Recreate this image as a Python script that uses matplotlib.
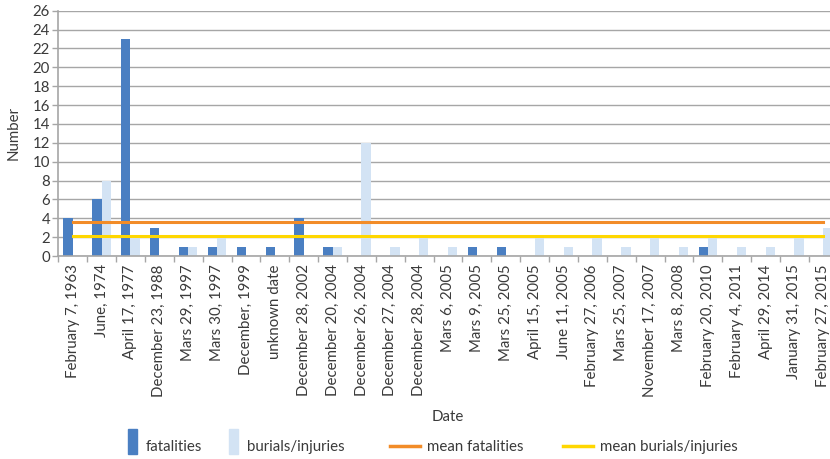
import matplotlib
matplotlib.use("Agg")
import matplotlib.pyplot as plt
import numpy as np
from matplotlib.patches import Rectangle
from matplotlib.lines import Line2D
from matplotlib.legend_handler import HandlerPatch

plt.rcParams['font.family'] = ['Lato', 'DejaVu Sans']

dates = ["February 7, 1963", "June, 1974", "April 17, 1977", "December 23, 1988",
         "Mars 29, 1997", "Mars 30, 1997", "December, 1999", "unknown date",
         "December 28, 2002", "December 20, 2004", "December 26, 2004",
         "December 27, 2004", "December 28, 2004", "Mars 6, 2005", "Mars 9, 2005",
         "Mars 25, 2005", "April 15, 2005", "June 11, 2005", "February 27, 2006",
         "Mars 25, 2007", "November 17, 2007", "Mars 8, 2008", "February 20, 2010",
         "February 4, 2011", "April 29, 2014", "January 31, 2015", "February 27, 2015"]
fatalities = [4, 6, 23, 3, 1, 1, 1, 1, 4, 1, 0, 0, 0, 0, 1, 1, 0, 0, 0, 0, 0, 0, 1, 0, 0, 0, 0]
burials_injuries = [0, 8, 2, 0, 1, 2, 0, 0, 0, 1, 12, 1, 2, 1, 0, 0, 2, 1, 2, 1, 2, 1, 2, 1, 1, 2, 3]
mean_fatalities = 3.6
mean_burials_injuries = 2.1

C_FAT = "#4a7fc2"
C_BUR = "#d3e3f4"
C_MFAT = "#f28c28"
C_MBUR = "#ffd700"
TXT = "#3a3a3a"
GRID = "#a6a6a6"

W, H = 830, 459
fig = plt.figure(figsize=(W / 100, H / 100), dpi=100)
x0, x1 = 58.3, 837.8
y0, y1 = 256.0, 10.7
ax = fig.add_axes([x0 / W, 1 - y0 / H, (x1 - x0) / W, (y0 - y1) / H])

n = len(dates)
x = np.arange(n)
bw = 0.32
ax.bar(x - bw / 2, fatalities, width=bw, color=C_FAT, zorder=2)
ax.bar(x + bw / 2, burials_injuries, width=bw, color=C_BUR, zorder=2)
ax.plot(x, [mean_fatalities] * n, color=C_MFAT, lw=2.2, zorder=3)
ax.plot(x, [mean_burials_injuries] * n, color=C_MBUR, lw=2.2, zorder=3)

ax.set_xlim(-0.5, n - 0.5)
ax.set_ylim(0, 26)
ax.set_yticks(np.arange(0, 27, 2))
ax.yaxis.grid(True, color=GRID, lw=1.0, zorder=0)
ax.set_axisbelow(True)

ax.set_xticks(x)
ax.set_xticklabels(dates, rotation=90, fontsize=10.8, color=TXT)
ax.set_xticks(np.arange(-0.5, n, 1), minor=True)
ax.tick_params(axis='x', which='major', length=0, pad=6)
ax.tick_params(axis='x', which='minor', length=4, color=GRID, width=1)
ax.tick_params(axis='y', length=4, color=GRID, width=1, labelsize=10.8, labelcolor=TXT, pad=2)

for s in ('top', 'right'):
    ax.spines[s].set_visible(False)
for s in ('left', 'bottom'):
    ax.spines[s].set_color(GRID)
    ax.spines[s].set_linewidth(1.2)

fig.text(14 / W, 1 - 133 / H, "Number", rotation=90, ha='center', va='center',
         fontsize=10.8, color=TXT)
fig.text(448 / W, 1 - 417 / H, "Date", ha='center', va='center', fontsize=10.8, color=TXT)


def tall_patch(legend, orig_handle, xdescent, ydescent, width, height, fontsize):
    return Rectangle((-xdescent, -ydescent - 2), 6.5, 18)


handles = [Rectangle((0, 0), 1, 1, color=C_FAT), Rectangle((0, 0), 1, 1, color=C_BUR),
           Line2D([], [], color=C_MFAT, lw=2.5), Line2D([], [], color=C_MBUR, lw=2.5)]
labels = ["fatalities", "burials/injuries", "mean fatalities", "mean burials/injuries"]
positions = [128, 229, 390, 563]
for h, lab, px in zip(handles, labels, positions):
    hl = 0.72 if isinstance(h, Rectangle) else 2.0
    fig.legend([h], [lab], loc='center left', bbox_to_anchor=(px / W, 1 - 447 / H),
               frameon=False, fontsize=10.8, handlelength=hl, handletextpad=0.45,
               borderaxespad=0, borderpad=0, labelcolor=TXT,
               handler_map={Rectangle: HandlerPatch(patch_func=tall_patch)})

fig.savefig("out.png", dpi=100)
